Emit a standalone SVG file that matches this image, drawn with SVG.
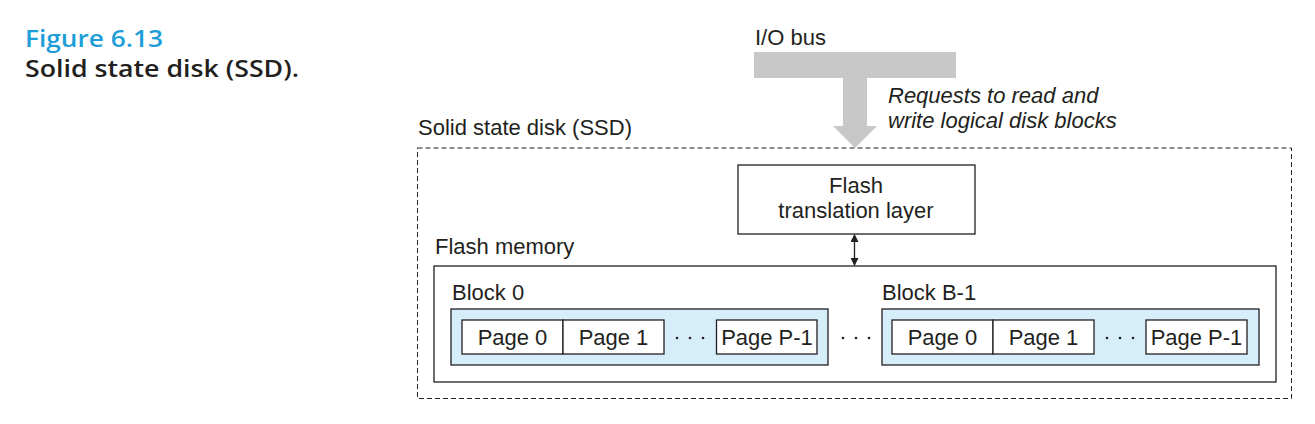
<svg xmlns="http://www.w3.org/2000/svg" width="1315" height="424" viewBox="0 0 1315 424">
<style>
text{font-family:"Liberation Sans",Arial,sans-serif;font-size:22px;fill:#231f20}
.it{font-style:italic}
.mid{text-anchor:middle}
.box{fill:#fff;stroke:#231f20;stroke-width:1.3}
.blk{fill:#d6edfa;stroke:#231f20;stroke-width:1.3}
.dot{fill:#231f20}
.title{font-family:"Open Sans","Noto Sans",sans-serif;font-weight:600;font-size:23px}
</style>
<defs>
<marker id="ah" markerWidth="8" markerHeight="8" refX="7" refY="4" orient="auto-start-reverse" markerUnits="userSpaceOnUse">
<path d="M0,0 L8,4 L0,8 z" fill="#231f20"/>
</marker>
</defs>
<rect width="1315" height="424" fill="#fff"/>
<g id="caption">
<text class="title" x="25" y="47" style="fill:#1e9ed8" textLength="138" lengthAdjust="spacingAndGlyphs">Figure 6.13</text>
<text class="title" x="25" y="77" textLength="274" lengthAdjust="spacingAndGlyphs">Solid state disk (SSD).</text>
</g>
<g id="iobus">
<text x="755" y="45">I/O bus</text>
<path d="M754,52 H956 V78 H867 V126 H877 L855,148 L833,126 H843 V78 H754 Z" fill="#c8c8c8"/>
<text class="it" x="888" y="103">Requests to read and</text>
<text class="it" x="888" y="128">write logical disk blocks</text>
</g>
<g id="ssd">
<rect x="417.5" y="148" width="874" height="250.5" fill="none" stroke="#231f20" stroke-width="1" stroke-dasharray="5,3"/>
<text x="418" y="135">Solid state disk (SSD)</text>
</g>
<g id="ftl">
<rect class="box" x="738" y="165" width="237" height="69"/>
<text class="mid" x="856" y="193">Flash</text>
<text class="mid" x="856" y="218">translation layer</text>
</g>
<g id="connectors">
<line x1="854.5" y1="235" x2="854.5" y2="265" stroke="#231f20" stroke-width="1.3" marker-start="url(#ah)" marker-end="url(#ah)"/>
</g>
<g id="flashmem">
<rect class="box" x="434" y="266" width="842" height="116"/>
<text x="435" y="254">Flash memory</text>
</g>
<g id="block0">
<text x="452" y="300">Block 0</text>
<rect class="blk" x="451" y="309" width="377" height="56"/>
<rect class="box" x="462" y="320" width="101" height="34"/>
<rect class="box" x="563" y="320" width="101" height="34"/>
<rect class="box" x="716.5" y="320" width="100.5" height="34"/>
<text class="mid" x="512.5" y="345">Page 0</text>
<text class="mid" x="613.5" y="345">Page 1</text>
<text class="mid" x="767" y="345">Page P-1</text>
<circle class="dot" cx="677" cy="338" r="1.3"/>
<circle class="dot" cx="690" cy="338" r="1.3"/>
<circle class="dot" cx="703" cy="338" r="1.3"/>
</g>
<g id="between">
<circle class="dot" cx="843" cy="338" r="1.3"/>
<circle class="dot" cx="856" cy="338" r="1.3"/>
<circle class="dot" cx="869" cy="338" r="1.3"/>
</g>
<g id="blockB1">
<text x="882" y="300">Block B-1</text>
<rect class="blk" x="882" y="309" width="377" height="56"/>
<rect class="box" x="892" y="320" width="101" height="34"/>
<rect class="box" x="993" y="320" width="101" height="34"/>
<rect class="box" x="1146" y="320" width="101" height="34"/>
<text class="mid" x="942.5" y="345">Page 0</text>
<text class="mid" x="1043.5" y="345">Page 1</text>
<text class="mid" x="1196.5" y="345">Page P-1</text>
<circle class="dot" cx="1107" cy="338" r="1.3"/>
<circle class="dot" cx="1120" cy="338" r="1.3"/>
<circle class="dot" cx="1133" cy="338" r="1.3"/>
</g>
</svg>
